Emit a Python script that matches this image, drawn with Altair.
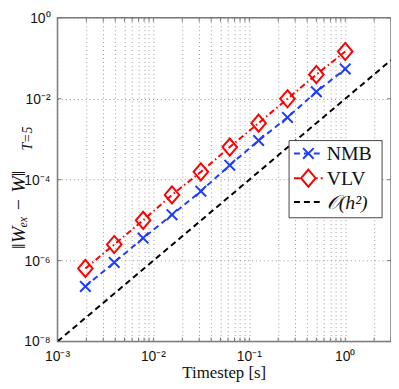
import altair as alt
import pandas as pd

# ---- data ----
h = [0.001953125, 0.00390625, 0.0078125, 0.015625, 0.03125,
     0.0625, 0.125, 0.25, 0.5, 1.0]
nmb = [2.3e-7, 9.0e-7, 3.6e-6, 1.36e-5, 5.2e-5,
       2.28e-4, 9.3e-4, 3.45e-3, 1.49e-2, 5.45e-2]
vlv = [6.4e-7, 2.5e-6, 9.9e-6, 4.2e-5, 1.56e-4,
       6.4e-4, 2.5e-3, 1.0e-2, 3.97e-2, 1.475e-1]
ref_h = [0.001, 3.0]
ref_err = [1e-8, 9e-2]

x_major = [0.001, 0.01, 0.1, 1.0]
x_major_lbl = ["10⁻³", "10⁻²", "10⁻¹", "10⁰"]
x_minor = [0.002, 0.003, 0.004, 0.005, 0.006, 0.007, 0.008, 0.009,
           0.02, 0.03, 0.04, 0.05, 0.06, 0.07, 0.08, 0.09,
           0.2, 0.3, 0.4, 0.5, 0.6, 0.7, 0.8, 0.9,
           2.0, 3.0]
y_major = [1e-8, 1e-6, 1e-4, 1e-2, 1.0]
y_major_lbl = ["10⁻⁸", "10⁻⁶", "10⁻⁴", "10⁻²", "10⁰"]

W, H = 337, 327
BLUE = "#1f3cff"
RED = "#ff0000"
FRAME = "#7a7a7a"
SANS = "Liberation Sans"
SERIF = "Liberation Serif"

xs = alt.Scale(type="log", domain=[0.001, 3], nice=False)
ys = alt.Scale(type="log", domain=[1e-8, 1], nice=False)

df = pd.DataFrame({"h": h, "nmb": nmb, "vlv": vlv})
dref = pd.DataFrame({"h": ref_h, "e": ref_err})
dxt = pd.DataFrame({"x": x_major + x_minor})
dxl = pd.DataFrame({"x": x_major, "lbl": x_major_lbl})
dyl = pd.DataFrame({"y": y_major, "lbl": y_major_lbl})
one = pd.DataFrame({"a": [0]})

xaxis = alt.Axis(values=x_major + x_minor, grid=True, gridDash=[1, 3],
                 gridColor="#9a9a9a", gridWidth=1, ticks=False, labels=False,
                 domain=False, title=None)
yaxis = alt.Axis(values=y_major, grid=True, gridDash=[1, 3],
                 gridColor="#9a9a9a", gridWidth=1, ticks=False, labels=False,
                 domain=False, title=None)

base = alt.Chart(df)

grid = alt.Chart(dxt).mark_point(opacity=0).encode(
    x=alt.X("x:Q", scale=xs, axis=xaxis),
    y=alt.Y("y:Q", scale=ys, axis=yaxis),
).transform_calculate(y="1e-3")

ref_line = alt.Chart(dref).mark_line(color="black", strokeWidth=2,
                                     strokeDash=[6, 4], clip=True).encode(
    x=alt.X("h:Q", scale=xs), y=alt.Y("e:Q", scale=ys))

nmb_line = base.mark_line(color=BLUE, strokeWidth=2, strokeDash=[6, 4]).encode(
    x=alt.X("h:Q", scale=xs), y=alt.Y("nmb:Q", scale=ys))
nmb_pts = base.mark_point(shape="M-1,-1L1,1M-1,1L1,-1", size=115, color=BLUE,
                          strokeWidth=2, filled=False, opacity=1).encode(
    x=alt.X("h:Q", scale=xs), y=alt.Y("nmb:Q", scale=ys))

DIAMOND = "M0,-1L0.85,0L0,1L-0.85,0Z"
vlv_line = base.mark_line(color=RED, strokeWidth=2,
                          strokeDash=[6, 3, 1.5, 3]).encode(
    x=alt.X("h:Q", scale=xs), y=alt.Y("vlv:Q", scale=ys))
vlv_pts = base.mark_point(shape=DIAMOND, size=300, color=RED, strokeWidth=2,
                          filled=False, opacity=1).encode(
    x=alt.X("h:Q", scale=xs), y=alt.Y("vlv:Q", scale=ys))

# inward ticks
tick_b = alt.Chart(dxt).mark_rule(color=FRAME, strokeWidth=1).encode(
    x=alt.X("x:Q", scale=xs), y=alt.value(H), y2=alt.value(H - 4))
tick_t = alt.Chart(dxt).mark_rule(color=FRAME, strokeWidth=1).encode(
    x=alt.X("x:Q", scale=xs), y=alt.value(0), y2=alt.value(4))
tick_l = alt.Chart(dyl).mark_rule(color=FRAME, strokeWidth=1).encode(
    y=alt.Y("y:Q", scale=ys), x=alt.value(0), x2=alt.value(4))
tick_r = alt.Chart(dyl).mark_rule(color=FRAME, strokeWidth=1).encode(
    y=alt.Y("y:Q", scale=ys), x=alt.value(W), x2=alt.value(W - 4))

# tick labels
xlab = alt.Chart(dxl).mark_text(font=SANS, fontSize=14, color="#111",
                                align="center", baseline="top", dy=9).encode(
    x=alt.X("x:Q", scale=xs), y=alt.value(H), text="lbl:N")
ylab = alt.Chart(dyl).mark_text(font=SANS, fontSize=14, color="#111",
                                align="right", baseline="middle", dy=1).encode(
    y=alt.Y("y:Q", scale=ys), x=alt.value(-7), text="lbl:N")

# axis titles
xtitle = alt.Chart(one).mark_text(font=SERIF, fontSize=17, color="#111",
                                  align="center", baseline="alphabetic").encode(
    x=alt.value(W / 2), y=alt.value(H + 37), text=alt.value("Timestep [s]"))
ytitle = alt.Chart(one).mark_text(font=SERIF, fontSize=20, fontStyle="italic",
                                  color="#111", angle=270, align="center",
                                  baseline="middle").encode(
    x=alt.value(-39), y=alt.value(194), text=alt.value("‖Wₑₓ − W‖"))
ysub = alt.Chart(one).mark_text(font=SERIF, fontSize=14, fontStyle="italic",
                                color="#111", angle=270, align="center",
                                baseline="middle").encode(
    x=alt.value(-30), y=alt.value(122), text=alt.value("T=5"))

# legend (manual, MATLAB style)
LX0, LX1, LY0, LY1 = 234, 328, 124, 202
leg_box = alt.Chart(one).mark_rect(fill="white", stroke="#444",
                                   strokeWidth=1).encode(
    x=alt.value(LX0), x2=alt.value(LX1), y=alt.value(LY0), y2=alt.value(LY1))
rows = [137, 162, 186]
leg = [leg_box]
styles = [(BLUE, [6, 4]), (RED, [6, 3, 1.5, 3]), ("black", [6, 4])]
labels = ["NMB", "VLV", "𝒪(h²)"]
italics = ["normal", "normal", "italic"]
for (c, dash), yy, lab, it in zip(styles, rows, labels, italics):
    leg.append(alt.Chart(one).mark_rule(color=c, strokeWidth=2,
                                        strokeDash=dash).encode(
        x=alt.value(239), x2=alt.value(268), y=alt.value(yy)))
    leg.append(alt.Chart(one).mark_text(font=SERIF, fontSize=20, color="#111",
                                        fontStyle=it,
                                        align="left", baseline="middle").encode(
        x=alt.value(272), y=alt.value(yy + 1), text=alt.value(lab)))
leg.append(alt.Chart(one).mark_point(shape="M-1,-1L1,1M-1,1L1,-1", size=115,
                                     color=BLUE, strokeWidth=2, opacity=1).encode(
    x=alt.value(253.5), y=alt.value(rows[0])))
leg.append(alt.Chart(one).mark_point(shape=DIAMOND, size=300, color=RED,
                                     strokeWidth=2, fill="white", fillOpacity=1,
                                     opacity=1).encode(
    x=alt.value(253.5), y=alt.value(rows[1])))

chart = alt.layer(
    grid, ref_line, nmb_line, vlv_line, nmb_pts, vlv_pts,
    tick_b, tick_t, tick_l, tick_r, xlab, ylab, xtitle, ytitle, ysub, *leg
).properties(
    width=W, height=H,
    autosize=alt.AutoSizeParams(type="none"),
    padding={"left": 50, "top": 8, "right": 0, "bottom": 42},
).configure_view(stroke=FRAME, strokeWidth=1.5)

chart.save("out.html", embed_options={"renderer": "svg", "actions": False})
